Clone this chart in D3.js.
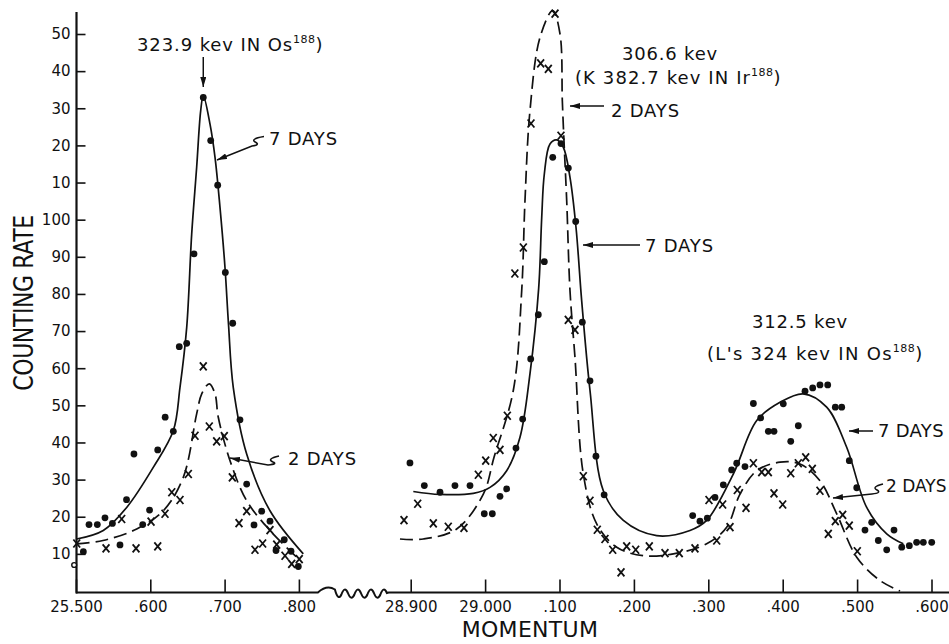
<!DOCTYPE html>
<html><head><meta charset="utf-8">
<script src="https://cdn.jsdelivr.net/npm/d3@7"></script>
<style>
html,body{margin:0;padding:0;background:#fff;}
svg{display:block;}
text{font-family:"DejaVu Sans",sans-serif;fill:#111;}
</style></head><body>
<svg id="chart" width="949" height="644"></svg>
<script>
// ---------------- DATA ----------------
// y ticks (counting rate) and their printed labels (scale restarts after 100)
const yTickValues = [10,20,30,40,50,60,70,80,90,100,110,120,130,140,150];
const yTickLabels = ["10","20","30","40","50","60","70","80","90","100","10","20","30","40","50"];
// broken momentum axis: left and right segments
const leftTicks = [25.5,25.6,25.7,25.8];
const leftTickLabels = ["25.500",".600",".700",".800"];
const rightTicks = [28.9,29.0,29.1,29.2,29.3,29.4,29.5,29.6];
const rightTickLabels = ["28.900","29.000",".100",".200",".300",".400",".500",".600"];

// Left peak (323.9 kev) — 7 days (dots), 2 days (crosses)  [momentum, rate]
const leftSevenDays = [[25.5099,10.6],[25.5175,17.9],[25.5287,17.9],[25.539,19.7],[25.549,18.2],[25.5592,12.4],[25.568,24.6],[25.578,36.9],[25.5898,17.9],[25.599,21.8],[25.610,38.0],[25.620,46.8],[25.631,43.0],[25.639,65.8],[25.649,66.7],[25.6588,90.8],[25.6713,132.9],[25.6813,121.3],[25.6907,109.3],[25.7010,85.8],[25.7109,72.1],[25.7207,46.1],[25.7297,28.8],[25.7396,17.8],[25.7499,21.5],[25.7611,18.8],[25.7692,10.9],[25.7803,13.8],[25.7894,10.7],[25.7992,6.6]];
const leftTwoDays = [[25.501,12.8],[25.5404,11.5],[25.5615,19.4],[25.5808,11.5],[25.601,18.7],[25.610,12.0],[25.6198,20.8],[25.6289,26.6],[25.640,24.5],[25.6512,31.5],[25.6602,41.8],[25.6713,60.5],[25.6794,44.3],[25.6893,40.3],[25.6996,41.7],[25.7104,30.6],[25.7194,18.3],[25.7297,21.5],[25.7409,11.1],[25.7512,12.8],[25.7611,16.4],[25.7701,12.5],[25.7813,9.5],[25.7903,7.3],[25.8005,8.6]];
const leftOpenPoints = [[25.4975,7.0]];
// Left fitted curves
const leftSevenCurve = [[25.5009,14.0],[25.5367,16.3],[25.5682,22.5],[25.604,33.3],[25.631,43.2],[25.6400,54.9],[25.649,71.0],[25.6557,96.1],[25.6624,114.1],[25.6678,129.3],[25.6713,133.4],[25.6803,125.8],[25.6871,116.8],[25.6938,103.3],[25.7005,87.2],[25.7052,72.0],[25.7117,54.8],[25.7297,36.9],[25.7611,21.6],[25.8059,10.0]];
const leftTwoCurve = [[25.5009,12.7],[25.5363,13.6],[25.5817,16.7],[25.6175,21.6],[25.6444,30.6],[25.6624,47.7],[25.6692,53.1],[25.6794,55.8],[25.6871,53.1],[25.6915,46.8],[25.7073,35.1],[25.7297,24.3],[25.7611,16.3],[25.7970,9.1]];

// Right peaks (306.6 kev and 312.5 kev)
const rightSevenDays = [[28.899,34.5],[28.9183,28.4],[28.9394,26.6],[28.9595,28.4],[28.9797,28.4],[28.9989,20.8],[29.0097,20.8],[29.020,25.5],[29.029,27.5],[29.0415,38.5],[29.0505,46.3],[29.0613,62.5],[29.0715,74.4],[29.0796,88.7],[29.0909,116.8],[29.102,120.5],[29.1119,113.9],[29.1218,99.5],[29.1307,72.4],[29.141,56.6],[29.149,36.3],[29.16,25.9],
 [29.279,20.3],[29.2888,18.8],[29.2987,19.6],[29.309,25.2],[29.3202,28.6],[29.3314,32.6],[29.3382,34.4],[29.3493,33.5],[29.3606,50.5],[29.3704,46.6],[29.3807,43.0],[29.3883,43.0],[29.4008,50.4],[29.4108,40.3],[29.4210,44.5],[29.430,53.8],[29.4403,54.7],[29.4501,55.5],[29.4605,55.5],[29.4707,49.5],[29.4793,49.5],[29.4895,35.1],[29.4995,27.8],[29.5106,16.4],[29.5196,18.5],[29.5285,13.6],[29.5398,11.1],[29.5496,16.4],[29.560,11.8],[29.5702,12.2],[29.580,13.1],[29.589,13.1],[29.6003,13.1]];
const rightTwoDays = [[28.891,19.1],[28.9094,23.5],[28.9304,18.2],[28.9505,17.3],[28.9716,17.0],[28.9909,31.3],[29.0008,35.1],[29.011,41.2],[29.020,38.0],[29.0299,47.2],[29.040,85.5],[29.0514,92.5],[29.0617,125.9],[29.0747,142.1],[29.085,140.6],[29.094,155.5],[29.102,122.6],[29.1118,73.0],[29.1208,70.3],[29.132,30.9],[29.141,24.3],[29.1508,16.5],[29.1611,14.0],[29.1715,11.1],[29.1827,5.0],[29.1903,12.0],[29.2024,11.1],[29.2207,12.0],[29.2418,10.2],[29.261,10.2],[29.2821,11.5],[29.3009,24.5],[29.3113,13.6],[29.3193,23.3],[29.3292,17.2],[29.339,27.2],[29.3507,22.4],[29.3606,34.4],[29.3718,32.0],[29.3807,32.0],[29.3883,26.3],[29.4,23.3],[29.4108,31.7],[29.421,34.4],[29.4309,36.0],[29.4398,32.9],[29.4501,27.0],[29.4613,15.4],[29.4707,18.8],[29.4806,20.5],[29.4895,17.6],[29.5003,10.7]];
const rightSevenCurve = [[28.9035,26.8],[28.9394,26.0],[28.9841,26.3],[29.0066,27.9],[29.029,32.4],[29.0469,41.4],[29.0603,58.5],[29.0720,81.5],[29.0761,100.6],[29.0796,112.3],[29.0872,120.4],[29.0962,121.5],[29.1051,119.5],[29.1141,111.4],[29.1222,97.9],[29.1298,78.2],[29.141,54],[29.1589,27],[29.1858,19],[29.2306,14.9],[29.2754,16.3],[29.2978,19.0],[29.3336,31.5],[29.3651,45.9],[29.3964,50.8],[29.4277,53.1],[29.4591,49.5],[29.486,38.7],[29.5129,22.5],[29.5398,15.4],[29.5621,12.7]];
const rightTwoCurve = [[28.8856,14.0],[28.9169,14.0],[28.9618,16.7],[28.9976,26.1],[29.012,36],[29.0379,54],[29.0492,80.9],[29.0536,105.1],[29.0603,129.3],[29.0738,149.1],[29.0909,156.3],[29.1007,150],[29.1038,132],[29.106,121.3],[29.1097,105],[29.1141,80.9],[29.1208,62.9],[29.132,31.5],[29.15,18.1],[29.1769,11.8],[29.2126,9.5],[29.253,10.0],[29.2978,12.7],[29.3247,17.2],[29.3426,26.1],[29.3651,32.4],[29.3964,34.7],[29.4233,34.2],[29.4501,29.7],[29.4726,20.8],[29.4995,9.1],[29.5309,2.8],[29.5577,0]];

// ---------------- CHART ----------------
const svg = d3.select("#chart");
const ink = "#111";
const y  = d3.scaleLinear().domain([0,150]).range([591,34]);
const xL = d3.scaleLinear().domain([25.5,25.8]).range([76,298.9]);
const xR = d3.scaleLinear().domain([28.9,29.6]).range([410.7,931.5]);
const axisY = 592.5;

const defs = svg.append("defs");
defs.append("marker").attr("id","arr").attr("viewBox","0 0 10 6")
  .attr("refX",10).attr("refY",3).attr("markerWidth",10).attr("markerHeight",6)
  .attr("markerUnits","userSpaceOnUse").attr("orient","auto")
  .append("path").attr("d","M0,0 L10,3 L0,6 Z").attr("fill",ink);

// y axis
svg.append("line").attr("x1",76.5).attr("x2",76.5).attr("y1",12).attr("y2",axisY+1)
  .attr("stroke",ink).attr("stroke-width",2.2);
const gy = svg.append("g").attr("transform","translate(76.5,0)")
  .call(d3.axisLeft(y).tickValues(yTickValues).tickFormat((d,i)=>yTickLabels[i])
        .tickSizeInner(-9).tickSizeOuter(0).tickPadding(6));
gy.select(".domain").remove();
gy.selectAll("line").attr("stroke",ink).attr("stroke-width",1.6);
gy.selectAll("text").attr("font-size",15).attr("font-family","DejaVu Sans").attr("fill",ink);

// x axes
function xAxis(scale, ticks, labels){
  const g = svg.append("g").attr("transform",`translate(0,${axisY})`)
    .call(d3.axisBottom(scale).tickValues(ticks).tickFormat((d,i)=>labels[i])
          .tickSizeInner(-13).tickSizeOuter(0).tickPadding(9));
  g.select(".domain").remove();
  g.selectAll("line").attr("stroke",ink).attr("stroke-width",1.6);
  g.selectAll("text").attr("font-size",15).attr("font-family","DejaVu Sans").attr("fill",ink);
  return g;
}
xAxis(xL, leftTicks, leftTickLabels);
xAxis(xR, rightTicks, rightTickLabels);

// baseline with wavy break
const bp = d3.path();
bp.moveTo(76, axisY);
const bStart = xL(25.8)+19;
bp.lineTo(bStart, axisY);
bp.quadraticCurveTo(bStart+9, axisY-8, bStart+17, axisY-3);
let bx = bStart+17;
for(let k=0;k<4;k++){
  bp.quadraticCurveTo(bx+3.25, axisY+9, bx+6.5, axisY+2);
  bp.quadraticCurveTo(bx+9.75, axisY-7, bx+13, axisY+0.5);
  bx += 13;
}
bp.lineTo(xR(28.9)-22, axisY);
bp.lineTo(949, axisY);
svg.append("path").attr("d",bp.toString()).attr("fill","none").attr("stroke",ink).attr("stroke-width",2);

// curves
function curve(data, scale, dashed){
  const line = d3.line().x(d=>scale(d[0])).y(d=>y(d[1])).curve(d3.curveCatmullRom.alpha(0.5));
  svg.append("path").attr("d",line(data)).attr("fill","none").attr("stroke",ink)
    .attr("stroke-width",1.7).attr("stroke-dasharray",dashed?"13,6":null);
}
curve(leftSevenCurve, xL, false);
curve(leftTwoCurve, xL, true);
curve(rightSevenCurve, xR, false);
curve(rightTwoCurve, xR, true);

// markers
function dots(data, scale){
  svg.append("g").selectAll("circle").data(data).join("circle")
    .attr("cx",d=>scale(d[0])).attr("cy",d=>y(d[1])).attr("r",3.4).attr("fill",ink);
}
function crosses(data, scale){
  svg.append("g").selectAll("path").data(data).join("path")
    .attr("transform",d=>`translate(${scale(d[0])},${y(d[1])})`)
    .attr("d","M-3.4,-4 L3.4,4 M3.4,-4 L-3.4,4")
    .attr("stroke",ink).attr("stroke-width",1.8).attr("fill","none");
}
dots(leftSevenDays, xL);
crosses(leftTwoDays, xL);
dots(rightSevenDays, xR);
crosses(rightTwoDays, xR);
svg.append("g").selectAll("circle").data(leftOpenPoints).join("circle")
  .attr("cx",d=>xL(d[0])).attr("cy",d=>y(d[1])).attr("r",2.4)
  .attr("fill","#fff").attr("stroke",ink).attr("stroke-width",1.4);

// annotations
function label(x, yy, txt, opts={}){
  const t = svg.append("text").attr("x",x).attr("y",yy)
    .attr("font-size",opts.size||18).attr("letter-spacing",opts.ls!=null?opts.ls:0.8)
    .attr("text-anchor",opts.anchor||"start");
  t.append("tspan").text(txt);
  if(opts.sup){
    t.append("tspan").attr("font-size",11).attr("dy",-8).attr("letter-spacing",0.5).text(opts.sup);
    t.append("tspan").attr("dy",8).text(")");
  }
  return t;
}
function arrow(d){
  svg.append("path").attr("d",d).attr("fill","none").attr("stroke",ink)
    .attr("stroke-width",1.5).attr("marker-end","url(#arr)");
}
// left peak
label(137, 51, "323.9 kev IN Os", {sup:"188", ls:0.9});
arrow(`M${xL(25.6713)},57 L${xL(25.6713)},87`);
label(269, 145, "7 DAYS");
arrow("M264,136.5 Q249,139 256,142.5 Q260,145 252,146 L217,160");
label(288, 465, "2 DAYS");
arrow("M279,456 Q266,459 273,462 Q278,464 268,465 L230,458");
// middle peak
label(622, 60, "306.6 kev");
label(575, 84, "(K 382.7 kev IN Ir", {sup:"188", ls:1.1});
label(611, 117, "2 DAYS");
arrow("M604,106 L570,106");
label(645, 252, "7 DAYS");
arrow("M640,245 L583,245");
// right peak
label(800, 328, "312.5 kev", {anchor:"middle"});
label(707, 360, "(L's 324 kev IN Os", {sup:"188", ls:1.3});
label(878, 437, "7 DAYS", {ls:0.3});
arrow("M873,431 L849,431");
label(886, 492, "2 DAYS", {size:17, ls:0});
arrow("M883,484 Q871,487 877,490 Q882,493 872,494 L833,498");

// axis titles
svg.append("text").attr("x",530).attr("y",637).attr("text-anchor","middle")
  .attr("font-size",22).attr("letter-spacing",0.3).text("MOMENTUM");
svg.append("text").attr("transform","translate(33,303) rotate(-90) scale(1,1.2)")
  .attr("text-anchor","middle").attr("font-size",22).attr("letter-spacing",-0.4).text("COUNTING RATE");
</script>
</body></html>
